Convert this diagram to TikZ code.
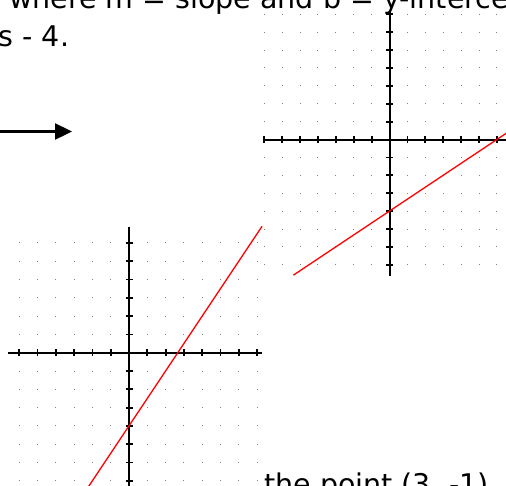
\documentclass[tikz,border=0pt]{standalone}
\usepackage{fontspec}
\setmainfont{DejaVu Sans}
\usetikzlibrary{arrows.meta}
\begin{document}
\begin{tikzpicture}[x=1pt,y=-1pt,
  axisline/.style={line width=2pt, black},
  tickmark/.style={line width=1.8pt, black},
  gdot/.style={fill=black!50},
  redline/.style={red, line width=1.3pt},
  txt/.style={font=\fontsize{28.5}{34}\selectfont, inner sep=0pt, anchor=base west}]
\useasboundingbox (0,0) rectangle (506,485);
\clip (0,0) rectangle (506,485);
% texts
\node[txt] (top) at (9,8.5) {where m = slope and b = y-intercept};
\node[txt] (eq) at (-1.5,46) {s - 4.};
\node[txt] (bot) at (264,494) {the point (3, -1)};
% arrow
\coordinate (arS) at (-1,131.5);
\coordinate (arE) at (72,131.5);
\draw[line width=2.4pt, -{Triangle[length=17pt,width=16pt]}] (arS) -- (arE);
% right grid
\begin{scope}[shift={(389.5,139.5)}, x=17.9pt, y=17.9pt]
  \foreach \i in {-7,...,6}
    \foreach \j in {-7,...,7}
      \fill[gdot] (\i,\j) ++(-0.5pt,-0.5pt) rectangle ++(1pt,1pt);
  \coordinate (rxl) at (-7,0);
  \coordinate (rxr) at (7.5,0);
  \coordinate (ryt) at (0,7.15);
  \coordinate (ryb) at (0,-7.6);
  \draw[axisline] (rxl) -- (rxr);
  \draw[axisline] (ryt) -- (ryb);
  \foreach \i in {-7,...,-1,1,2,...,7}
    \draw[tickmark] (\i,0) ++(0,-3.5pt) -- ++(0,7pt);
  \foreach \j in {-7,...,-1,1,2,...,7}
    \draw[tickmark] (0,\j) ++(-3.5pt,0) -- ++(7pt,0);
  \draw[redline] (-5.37,-7.58) -- (7.2,0.8);
\end{scope}
% left grid
\begin{scope}[shift={(129,352.7)}, x=18.3pt, y=18.3pt]
  \foreach \i in {-6,...,7}
    \foreach \j in {-7,...,6}
      \fill[gdot] (\i,\j) ++(-0.5pt,-0.5pt) rectangle ++(1pt,1pt);
  \coordinate (lxl) at (-6.61,0);
  \coordinate (lxr) at (7.27,0);
  \coordinate (lyt) at (0,6.89);
  \coordinate (lyb) at (0,-8);
  \draw[axisline] (lxl) -- (lxr);
  \draw[axisline] (lyt) -- (lyb);
  \foreach \i in {-6,...,-1,1,2,...,7}
    \draw[tickmark] (\i,0) ++(0,-3.5pt) -- ++(0,7pt);
  \foreach \j in {-7,...,-1,1,2,...,6}
    \draw[tickmark] (0,\j) ++(-3.5pt,0) -- ++(7pt,0);
  \draw[redline] (-2.6,-7.9) -- (7.27,6.905);
\end{scope}
\end{tikzpicture}
\end{document}
